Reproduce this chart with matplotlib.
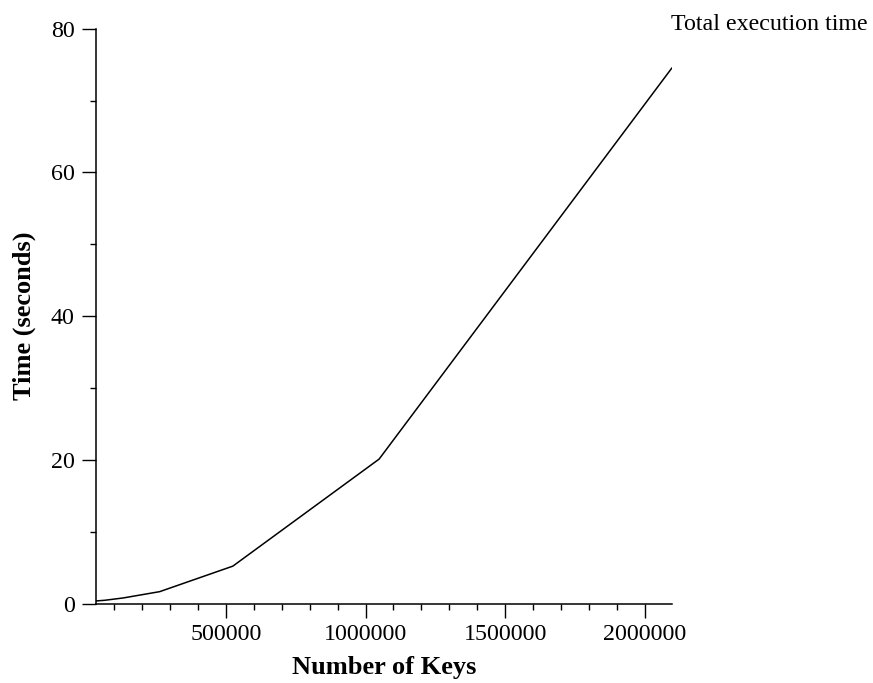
import matplotlib
matplotlib.use('Agg')
import matplotlib.pyplot as plt
from matplotlib.ticker import MultipleLocator

plt.rcParams['font.family'] = ['Liberation Serif', 'DejaVu Serif']

# data
keys = [32768, 65536, 131072, 262144, 524288, 1048576, 2097152]
seconds = [0.35, 0.45, 0.77, 1.65, 5.2, 20.1, 74.5]

W, H = 873, 683
fig = plt.figure(figsize=(W / 100, H / 100), dpi=100)
left, right = 95.7 / W, 671.7 / W
bottom, top = 1 - 603.5 / H, 1 - 28.7 / H
ax = fig.add_axes([left, bottom, right - left, top - bottom])

ax.plot(keys, seconds, color='black', linewidth=1.1)

ax.set_xlim(32768, 2097152)
ax.set_ylim(0, 80)
ax.xaxis.set_major_locator(MultipleLocator(500000))
ax.xaxis.set_minor_locator(MultipleLocator(100000))
ax.yaxis.set_major_locator(MultipleLocator(20))
ax.yaxis.set_minor_locator(MultipleLocator(10))
ax.ticklabel_format(style='plain', axis='x', useOffset=False)

for s in ['top', 'right']:
    ax.spines[s].set_visible(False)
for s in ['left', 'bottom']:
    ax.spines[s].set_linewidth(1.1)

ax.tick_params(which='major', direction='out', length=10, width=1.0,
               labelsize=17.3, pad=5)
ax.tick_params(which='minor', direction='out', length=4.3, width=1.0)

ax.set_xlabel('Number of Keys', fontsize=19, fontweight='bold', labelpad=8)
ax.set_ylabel('Time (seconds)', fontsize=19, fontweight='bold', labelpad=11)

fig.text(868 / W, 1 - 30 / H, 'Total execution time', fontsize=17.3,
         ha='right', va='baseline')

fig.savefig('out.png', dpi=100)
